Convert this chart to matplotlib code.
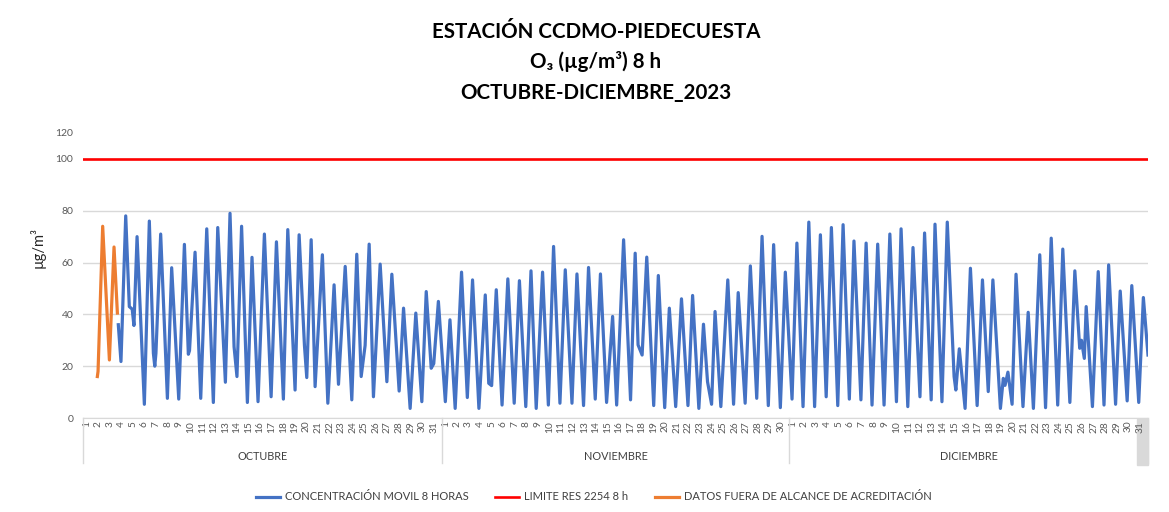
import matplotlib
matplotlib.use("Agg")
import matplotlib.pyplot as plt
from matplotlib.patches import Rectangle
from matplotlib.transforms import blended_transform_factory

plt.rcParams['font.family'] = ['Lato', 'DejaVu Sans']

# tiempo en dias desde el 1 de octubre 00:00 y concentracion (ug/m3)
t_movil = [3.05, 3.28, 3.69, 4.0, 4.25, 4.4, 4.67, 5.3, 5.73, 6.08, 6.2, 6.3,
           6.71, 7.29, 7.66, 8.27, 8.76, 9.1, 9.2, 9.68, 10.17, 10.69, 11.26,
           11.64, 12.3, 12.7, 13.05, 13.3, 13.7, 14.2, 14.6, 15.12,
           15.67, 16.25, 16.71, 17.31, 17.69, 18.32, 18.67, 19.13, 19.33,
           19.71, 20.05, 20.68, 21.15, 21.69, 22.07, 22.65, 23.22, 23.65,
           24.03, 24.37, 24.72, 25.09, 25.67, 26.25, 26.68, 27.31, 27.69,
           28.26, 28.75, 29.27, 29.65, 30.08, 30.3, 30.7, 31.3, 31.7, 32.15,
           32.7, 33.2, 33.65, 34.2, 34.75, 35.05, 35.3, 35.7, 36.2, 36.7,
           37.25, 37.7, 38.25, 38.7, 39.15, 39.7, 40.2, 40.65, 41.2, 41.66,
           42.24, 42.67, 43.24, 43.67, 44.25, 44.7, 45.23, 45.75, 46.1, 46.7,
           47.3, 47.7, 47.95, 48.3, 48.7, 49.3, 49.7, 50.25, 50.65, 51.2,
           51.7, 52.26, 52.66, 53.2, 53.6, 53.95, 54.3, 54.6, 55.1, 55.7,
           56.2, 56.6, 57.2, 57.65, 58.2, 58.66, 59.2, 59.66, 60.24, 60.67,
           61.25, 61.67, 62.2, 62.7, 63.2, 63.7, 64.2, 64.65, 65.2, 65.66,
           66.2, 66.6, 67.2, 67.65, 68.16, 68.65, 69.2, 69.7, 70.27, 70.67,
           71.25, 71.7, 72.3, 72.7, 73.27, 73.6, 74.2, 74.66, 75.25, 75.4,
           75.7, 76.2, 76.66, 77.24, 77.7, 78.2, 78.6, 79.25, 79.5, 79.65,
           79.9, 80.26, 80.6, 81.2, 81.65, 82.1, 82.65, 83.15, 83.64, 84.2,
           84.64, 85.25, 85.68, 86.1, 86.25, 86.5, 86.66, 87.2, 87.7, 88.2,
           88.6, 89.2, 89.6, 90.2, 90.6, 91.2, 91.6, 92.0]
c_movil = [36, 21.8, 78, 43, 42, 35.7, 70, 5.3, 76, 25, 20, 25,
           71, 7.6, 58, 7.3, 67, 24.6, 26, 64, 7.6, 73, 6,
           73.5, 13.8, 79, 27.5, 16, 74, 6, 62, 6.3,
           71, 8.2, 68, 7.3, 72.7, 10.8, 70.7, 28, 15.6,
           68.8, 12.1, 63, 5.7, 51.4, 13, 58.5, 7, 63.2,
           16, 28, 67.1, 8.2, 59.4, 14, 55.5, 10.4, 42.4,
           3.7, 40.5, 6.3, 48.8, 19.2, 21, 45, 6.3, 37.9, 3.7,
           56.3, 7.9, 53.3, 3.7, 47.5, 13.4, 12.5, 49.5, 5, 53.7,
           5.7, 53, 4.4, 56.8, 3.7, 56.3, 5, 66.2, 5.7, 57.2,
           5.7, 55.6, 4.8, 58.1, 7.3, 55.6, 6, 39.2, 5, 68.8,
           7, 63.6, 28.2, 24.3, 62.1, 4.8, 55, 4, 42.4, 4.4,
           46, 4.8, 47.3, 3.7, 36.2, 14, 5.3, 41.1, 4.4, 53.3,
           5.3, 48.4, 5.7, 58.7, 7.6, 70.1, 4.8, 66.9, 4, 56.3,
           7.3, 67.5, 4.4, 75.6, 4.4, 70.7, 8.2, 73.5, 4.8, 74.6,
           7.3, 68.3, 7, 67.5, 5, 67.1, 5, 71, 6.3, 73,
           4.4, 65.8, 8.2, 71.4, 7, 74.8, 6.3, 75.6, 16, 10.8,
           26.7, 3.7, 57.8, 4.8, 53.3, 10.2, 53.3, 3.7, 15.3, 12.6,
           17.7, 5.3, 55.5, 4.4, 40.8, 3.7, 63, 4, 69.4, 5,
           65.2, 6, 56.8, 26.9, 30, 23, 43, 4.4, 56.5, 5,
           59.1, 5.3, 49, 6.6, 51.1, 6, 46.5, 24.3]

t_fuera = [1.24, 1.3, 1.7, 2.28, 2.68, 2.97]
c_fuera = [16, 18, 74, 22.4, 66, 40.5]

limite = 100
meses = ['OCTUBRE', 'NOVIEMBRE', 'DICIEMBRE']
dias_mes = [31, 30, 31]

gris = '#595959'
linea_gris = '#D9D9D9'

fig = plt.figure(figsize=(11.69, 5.12), dpi=100)
ax = fig.add_axes([83/1169, 1-418/512, (1148-83)/1169, (418-133)/512])

total = sum(dias_mes)
ax.plot(t_movil, c_movil, color='#4472C4', lw=2.3, solid_joinstyle='round',
        label='CONCENTRACIÓN MOVIL 8 HORAS', zorder=3)
ax.plot([0, total], [limite, limite], color='#FF0000', lw=1.9,
        label='LIMITE RES 2254 8 h', zorder=2)
ax.plot(t_fuera, c_fuera, color='#ED7D31', lw=2.3, solid_joinstyle='round',
        label='DATOS FUERA DE ALCANCE DE ACREDITACIÓN', zorder=4)

ax.set_xlim(0, total)
ax.set_ylim(0, 110)
ax.set_yticks([0, 20, 40, 60, 80, 100, 110])
ax.set_yticklabels(['0', '20', '40', '60', '80', '100', '120'])
ax.yaxis.grid(True, color=linea_gris, lw=1)
ax.get_ygridlines()[-1].set_visible(False)
ax.set_axisbelow(True)
for s in ['top', 'right', 'left']:
    ax.spines[s].set_visible(False)
ax.spines['bottom'].set_color(linea_gris)
ax.tick_params(axis='y', length=0, pad=7, labelsize=7.5, labelcolor=gris)

# etiquetas de dias y meses
pos, etiquetas = [], []
inicio = 0
for n in dias_mes:
    for d in range(n):
        pos.append(inicio + d + 0.3)
        etiquetas.append(str(d + 1))
    inicio += n
ax.set_xticks(pos)
ax.set_xticklabels(etiquetas, rotation=90)
ax.tick_params(axis='x', length=0, pad=2, labelsize=7.3, labelcolor=gris)

trans = blended_transform_factory(ax.transData, ax.transAxes)
ax.add_patch(Rectangle((total - 0.95, -(465-418)/285), 0.95, (465-419)/285,
                       transform=trans, color='#D9D9D9', clip_on=False, zorder=0))
inicio = 0
for m, n in zip(meses, dias_mes):
    ax.plot([inicio, inicio], [0, -(463-418)/285], transform=trans,
            color=linea_gris, lw=1, clip_on=False)
    ax.text(inicio + n/2, -(456-418)/285, m, transform=trans, ha='center',
            va='center', fontsize=7.8, color='#404040')
    inicio += n
ax.plot([total, total], [0, -(463-418)/285], transform=trans,
        color=linea_gris, lw=1, clip_on=False)

fig.text(38/1169, 1-248/512, 'µg/m³', rotation=90, ha='center', va='center',
         fontsize=10.5, color='#262626')

titulos = ['ESTACIÓN CCDMO-PIEDECUESTA', 'O₃ (µg/m³) 8 h', 'OCTUBRE-DICIEMBRE_2023']
for y, txt in zip([32, 62, 93], titulos):
    fig.text(596/1169, 1-y/512, txt, ha='center', va='center', fontsize=14.8,
             fontweight='bold', color='black')

fig.legend(loc='center', bbox_to_anchor=(594/1169, 1-497/512), ncol=3, frameon=False,
           fontsize=8, handlelength=2.1, handletextpad=0.5, columnspacing=2.4,
           labelcolor='#404040')

fig.savefig('out.png', dpi=100)
